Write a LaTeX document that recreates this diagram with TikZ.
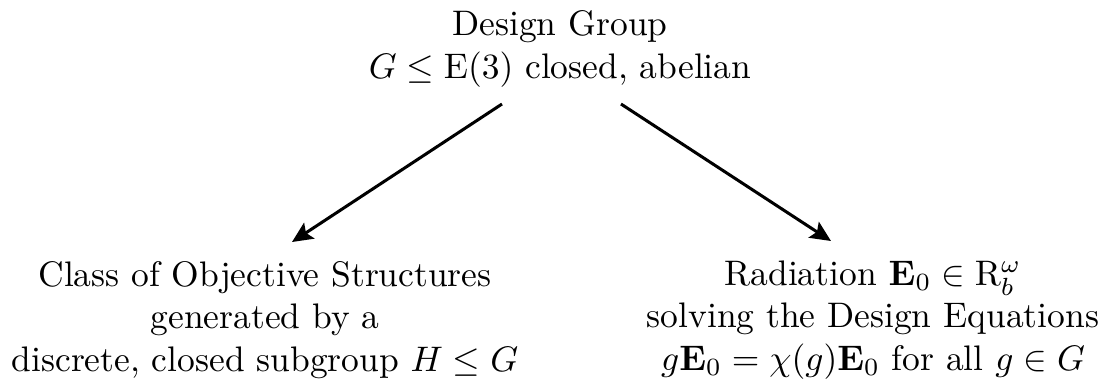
\documentclass[tikz,border=0pt]{standalone}
\usepackage{amsmath,amssymb}
\usetikzlibrary{arrows.meta}
\begin{document}
\begin{tikzpicture}[x=0.2818pt,y=-0.2818pt,
  txt/.style={align=center,inner sep=0pt},
  conn/.style={line width=0.85pt,-{Stealth[length=5.8pt,width=5.3pt,inset=1.1pt]}}]
\useasboundingbox (0,0) rectangle (1107,385);
\node[txt] (top) at (560,49) {Design Group\\ $G\leq \mathrm{E}(3)$ closed, abelian};
\node[txt] (left) at (265,320) {Class of Objective Structures\\ generated by a\\ discrete, closed subgroup $H\leq G$};
\node[txt] (right) at (873,320) {Radiation $\mathbf{E}_0\in \mathrm{R}_b^\omega$\\ solving the Design Equations\\ $g\mathbf{E}_0=\chi(g)\mathbf{E}_0$ for all $g\in G$};
\coordinate (ts1) at (502,104);
\coordinate (ts2) at (621,104);
\coordinate (le) at (292,242);
\coordinate (re) at (831,241);
\draw[conn] (ts1) -- (le);
\draw[conn] (ts2) -- (re);
\end{tikzpicture}
\end{document}
